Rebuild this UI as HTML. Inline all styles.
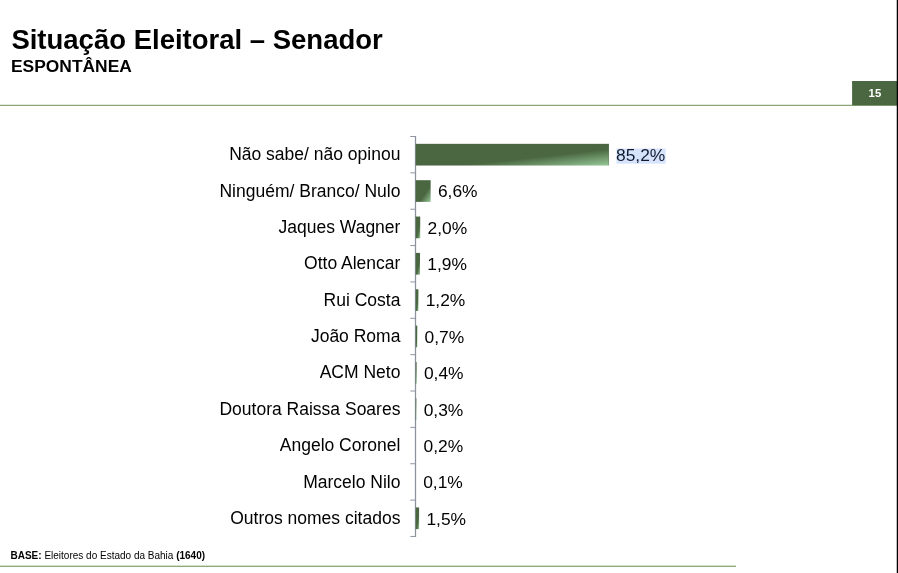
<!DOCTYPE html>
<html lang="pt"><head><meta charset="utf-8"><title>Situação Eleitoral – Senador</title>
<style>
html,body{margin:0;padding:0;background:#fff;}
body{width:898px;height:573px;position:relative;overflow:hidden;font-family:"Liberation Sans",Arial,sans-serif;color:#000;}
svg.shapes{position:absolute;left:0;top:0;}
h1{position:absolute;left:11.4px;top:23.2px;margin:0;font-size:27.5px;line-height:34px;font-weight:bold;white-space:nowrap;}
h2{position:absolute;left:11px;top:55.3px;margin:0;font-size:17.4px;line-height:22px;font-weight:bold;white-space:nowrap;}
.badge{position:absolute;left:852.4px;top:81px;width:45px;height:24px;color:#fff;font-weight:bold;font-size:11.3px;line-height:24px;text-align:center;}
.lab{position:absolute;right:497.6px;font-size:17.5px;line-height:22px;white-space:nowrap;text-align:right;}
.val{position:absolute;font-size:17.4px;line-height:22px;white-space:nowrap;}
.val.hl{color:#0f1b30;}
.foot{position:absolute;left:10.5px;top:549.9px;font-size:10px;line-height:12px;white-space:nowrap;}
</style></head><body>
<svg class="shapes" width="898" height="573" viewBox="0 0 898 573"><defs><linearGradient id="g" x1="0" y1="0" x2="1" y2="1"><stop offset="0" stop-color="#4a6741"/><stop offset="0.62" stop-color="#4a6741"/><stop offset="1" stop-color="#96c897"/></linearGradient></defs><rect x="0" y="104.75" width="897" height="1.25" fill="#88a676"/><rect x="852.1" y="81" width="45" height="24.2" fill="#4a6741"/><rect x="0" y="565.65" width="736" height="1.3" fill="#88a676"/><rect x="896.75" y="0" width="1.25" height="573" fill="#000"/><rect x="616.5" y="148.5" width="49.2" height="15.2" fill="#d6e4fb"/><line x1="415.5" y1="136.0" x2="415.5" y2="536.96" stroke="#8b929e" stroke-width="1.25"/><line x1="410.3" y1="136.50" x2="415.5" y2="136.50" stroke="#8f96a1" stroke-width="1"/><line x1="410.3" y1="172.86" x2="415.5" y2="172.86" stroke="#8f96a1" stroke-width="1"/><line x1="410.3" y1="209.22" x2="415.5" y2="209.22" stroke="#8f96a1" stroke-width="1"/><line x1="410.3" y1="245.58" x2="415.5" y2="245.58" stroke="#8f96a1" stroke-width="1"/><line x1="410.3" y1="281.94" x2="415.5" y2="281.94" stroke="#8f96a1" stroke-width="1"/><line x1="410.3" y1="318.30" x2="415.5" y2="318.30" stroke="#8f96a1" stroke-width="1"/><line x1="410.3" y1="354.66" x2="415.5" y2="354.66" stroke="#8f96a1" stroke-width="1"/><line x1="410.3" y1="391.02" x2="415.5" y2="391.02" stroke="#8f96a1" stroke-width="1"/><line x1="410.3" y1="427.38" x2="415.5" y2="427.38" stroke="#8f96a1" stroke-width="1"/><line x1="410.3" y1="463.74" x2="415.5" y2="463.74" stroke="#8f96a1" stroke-width="1"/><line x1="410.3" y1="500.10" x2="415.5" y2="500.10" stroke="#8f96a1" stroke-width="1"/><line x1="410.3" y1="536.46" x2="415.5" y2="536.46" stroke="#8f96a1" stroke-width="1"/><rect x="415.7" y="143.83" width="193.15" height="21.7" fill="url(#g)"/><rect x="608.05" y="143.83" width="0.8" height="21.7" fill="#2f5a2c" fill-opacity="0.35"/><rect x="415.7" y="180.19" width="14.96" height="21.7" fill="url(#g)"/><rect x="415.7" y="216.55" width="4.53" height="21.7" fill="url(#g)"/><rect x="415.7" y="252.91" width="4.31" height="21.7" fill="url(#g)"/><rect x="415.7" y="289.27" width="2.72" height="21.7" fill="url(#g)"/><rect x="415.7" y="325.63" width="1.59" height="21.7" fill="url(#g)"/><rect x="415.7" y="361.99" width="0.91" height="21.7" fill="url(#g)"/><rect x="415.7" y="398.35" width="0.68" height="21.7" fill="url(#g)"/><rect x="415.7" y="507.43" width="3.40" height="21.7" fill="url(#g)"/></svg>
<h1>Situação Eleitoral – Senador</h1>
<h2>ESPONTÂNEA</h2>
<div class="badge">15</div>
<div class="lab" style="top:143.3px">Não sabe/ não opinou</div>
<div class="val hl" style="left:616.0px;top:144.0px">85,2%</div>
<div class="lab" style="top:179.6px">Ninguém/ Branco/ Nulo</div>
<div class="val" style="left:437.9px;top:180.3px">6,6%</div>
<div class="lab" style="top:216.0px">Jaques Wagner</div>
<div class="val" style="left:427.5px;top:216.7px">2,0%</div>
<div class="lab" style="top:252.4px">Otto Alencar</div>
<div class="val" style="left:427.3px;top:253.1px">1,9%</div>
<div class="lab" style="top:288.7px">Rui Costa</div>
<div class="val" style="left:425.7px;top:289.4px">1,2%</div>
<div class="lab" style="top:325.1px">João Roma</div>
<div class="val" style="left:424.6px;top:325.8px">0,7%</div>
<div class="lab" style="top:361.4px">ACM Neto</div>
<div class="val" style="left:423.9px;top:362.1px">0,4%</div>
<div class="lab" style="top:397.8px">Doutora Raissa Soares</div>
<div class="val" style="left:423.7px;top:398.5px">0,3%</div>
<div class="lab" style="top:434.2px">Angelo Coronel</div>
<div class="val" style="left:423.5px;top:434.9px">0,2%</div>
<div class="lab" style="top:470.5px">Marcelo Nilo</div>
<div class="val" style="left:423.2px;top:471.2px">0,1%</div>
<div class="lab" style="top:506.9px">Outros nomes citados</div>
<div class="val" style="left:426.4px;top:507.6px">1,5%</div>
<div class="foot"><b>BASE:</b> Eleitores do Estado da Bahia <b>(1640)</b></div>
</body></html>
